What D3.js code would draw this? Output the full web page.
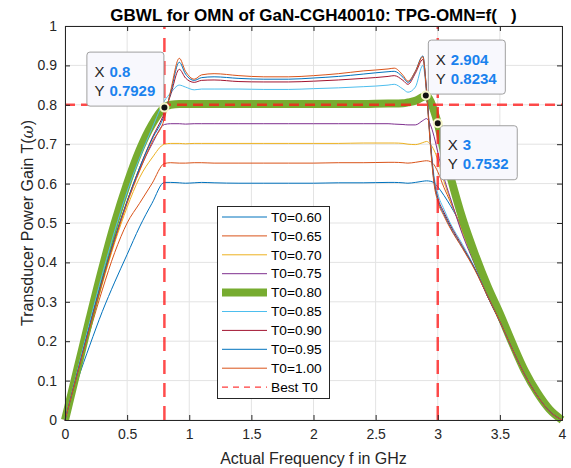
<!DOCTYPE html>
<html><head><meta charset="utf-8">
<script src="https://cdn.jsdelivr.net/npm/d3@7"></script>
<style>
html,body{margin:0;padding:0;background:#fff;}
svg{display:block;font-family:"Liberation Sans",Arial,Helvetica,sans-serif;}
</style></head>
<body>
<svg id="chart" width="571" height="468"></svg>
<script>
// ---------- data ----------
const freq = [0,0.1,0.2,0.3,0.4,0.5,0.6,0.7,0.8,0.85,0.92,0.97,1.04,1.1,1.2,1.4,1.6,1.8,2.0,2.2,2.4,2.6,2.65,2.72,2.76,2.82,2.88,2.91,2.94,2.97,3.0,3.05,3.1,3.2,3.3,3.4,3.5,3.6,3.7,3.8,3.9,4.0];
const t060 = [0,0.10,0.19,0.275,0.35,0.42,0.49,0.55,0.603,0.603,0.602,0.601,0.602,0.603,0.602,0.601,0.601,0.601,0.601,0.602,0.602,0.603,0.603,0.602,0.601,0.603,0.606,0.607,0.606,0.602,0.592,0.57,0.545,0.485,0.40,0.315,0.25,0.18,0.115,0.062,0.022,0];
const t065 = [0,0.115,0.225,0.33,0.425,0.50,0.55,0.60,0.651,0.653,0.652,0.652,0.653,0.653,0.652,0.652,0.652,0.652,0.652,0.653,0.653,0.654,0.654,0.653,0.652,0.654,0.657,0.658,0.656,0.648,0.63,0.59,0.555,0.48,0.398,0.315,0.25,0.18,0.115,0.062,0.022,0];
const t070 = [0,0.117,0.233,0.345,0.45,0.54,0.615,0.665,0.70,0.702,0.702,0.701,0.702,0.702,0.702,0.702,0.702,0.702,0.702,0.702,0.703,0.703,0.703,0.702,0.700,0.699,0.704,0.707,0.70,0.685,0.66,0.605,0.56,0.475,0.395,0.315,0.25,0.18,0.115,0.062,0.022,0];
const t075 = [0,0.12,0.24,0.355,0.46,0.555,0.635,0.70,0.75,0.752,0.752,0.751,0.752,0.752,0.752,0.752,0.752,0.752,0.752,0.752,0.752,0.752,0.751,0.750,0.749,0.749,0.76,0.765,0.75,0.72,0.68,0.615,0.565,0.47,0.393,0.315,0.25,0.18,0.115,0.062,0.022,0];
const t080 = [0,0.13,0.26,0.385,0.50,0.60,0.685,0.75,0.793,0.80,0.802,0.802,0.802,0.802,0.802,0.802,0.802,0.802,0.802,0.802,0.802,0.803,0.803,0.804,0.806,0.81,0.82,0.823,0.81,0.785,0.753,0.68,0.62,0.51,0.42,0.34,0.27,0.195,0.125,0.07,0.027,0];
const t085 = [0,0.125,0.25,0.37,0.48,0.58,0.665,0.74,0.81,0.83,0.85,0.845,0.838,0.84,0.84,0.84,0.839,0.839,0.841,0.843,0.846,0.850,0.852,0.840,0.832,0.845,0.90,0.83,0.71,0.62,0.575,0.535,0.50,0.445,0.385,0.315,0.25,0.18,0.115,0.062,0.022,0];
const t090 = [0,0.12,0.24,0.355,0.46,0.555,0.64,0.715,0.78,0.825,0.89,0.868,0.857,0.862,0.863,0.859,0.858,0.858,0.86,0.863,0.867,0.872,0.874,0.862,0.852,0.88,0.915,0.84,0.71,0.61,0.565,0.527,0.495,0.44,0.383,0.315,0.25,0.18,0.115,0.062,0.022,0];
const t095 = [0,0.12,0.24,0.355,0.46,0.555,0.64,0.712,0.775,0.83,0.908,0.878,0.862,0.869,0.871,0.867,0.865,0.865,0.868,0.872,0.878,0.884,0.885,0.87,0.857,0.885,0.924,0.835,0.705,0.605,0.56,0.522,0.49,0.437,0.382,0.315,0.25,0.18,0.115,0.062,0.022,0];
const t100 = [0,0.118,0.235,0.35,0.455,0.55,0.632,0.705,0.765,0.835,0.918,0.885,0.865,0.876,0.879,0.874,0.871,0.871,0.874,0.879,0.886,0.891,0.893,0.875,0.86,0.885,0.922,0.83,0.70,0.60,0.555,0.518,0.487,0.435,0.38,0.315,0.25,0.18,0.115,0.062,0.022,0];

const seriesNames  = ["T0=0.60","T0=0.65","T0=0.70","T0=0.75","T0=0.80","T0=0.85","T0=0.90","T0=0.95","T0=1.00"];
const seriesValues = [t060,t065,t070,t075,t080,t085,t090,t095,t100];
const seriesColors = ["#0072BD","#D95319","#EDB120","#7E2F8E","#77AC30","#4DBEEE","#A2142F","#0072BD","#D95319"];
const seriesWidths = [1,1,1,1,8,1,1,1,1];

const bestT0 = 0.8;
const bandEdges = [0.8, 3.0];
const dataTips = [
  {x:"0.8",   y:"0.7929", fx:0.8,   fy:0.7929, side:"left"},
  {x:"2.904", y:"0.8234", fx:2.904, fy:0.8234, side:"upright"},
  {x:"3",     y:"0.7532", fx:3.0,   fy:0.7532, side:"downright"}
];
const xTicks = [0,0.5,1,1.5,2,2.5,3,3.5,4];
const yTicks = [0,0.1,0.2,0.3,0.4,0.5,0.6,0.7,0.8,0.9,1];

// ---------- layout ----------
const svg = d3.select("#chart");
const L=65, R=562, T=26, B=420;
const x = d3.scaleLinear().domain([0,4]).range([L,R]);
const y = d3.scaleLinear().domain([0,1]).range([B,T]);
const axisColor = "#262626";

// grid
const grid = svg.append("g");
grid.selectAll("line.vx").data(xTicks).join("line")
  .attr("x1",d=>x(d)).attr("x2",d=>x(d)).attr("y1",T).attr("y2",B)
  .attr("stroke","#e3e3e3").attr("stroke-width",1);
grid.selectAll("line.hy").data(yTicks).join("line")
  .attr("y1",d=>y(d)).attr("y2",d=>y(d)).attr("x1",L).attr("x2",R)
  .attr("stroke","#e3e3e3").attr("stroke-width",1);

// curves
const line = d3.line().x(d=>x(d[0])).y(d=>y(d[1])).curve(d3.curveMonotoneX);
const curves = svg.append("g");
seriesValues.forEach((vals,i)=>{
  curves.append("path")
    .datum(freq.map((f,k)=>[f,vals[k]]))
    .attr("d",line)
    .attr("fill","none")
    .attr("stroke",seriesColors[i])
    .attr("stroke-width",seriesWidths[i])
    .attr("stroke-linejoin","round")
    .attr("stroke-linecap", i===4 ? "butt" : "round");
});

// best T0 dashed lines
const dash = svg.append("g").attr("stroke","#ff1a1a").attr("stroke-opacity",0.78)
  .attr("stroke-width",2.5).attr("fill","none");
dash.append("line").attr("x1",x(0)).attr("x2",x(4)).attr("y1",y(bestT0)).attr("y2",y(bestT0))
  .attr("stroke-dasharray","10,6");
bandEdges.forEach(f=>{
  dash.append("line").attr("x1",x(f)).attr("x2",x(f)).attr("y1",y(0)).attr("y2",y(1))
    .attr("stroke-dasharray","14,9");
});

// axes
const fmtX = d3.format("~g");
const fmtY = d=> d===0?"0":(d===1?"1":d.toFixed(1));
const gx = svg.append("g").attr("transform",`translate(0,${B})`)
  .call(d3.axisBottom(x).tickValues(xTicks).tickFormat(fmtX).tickSizeInner(-5).tickSizeOuter(0).tickPadding(9));
const gxt = svg.append("g").attr("transform",`translate(0,${T})`)
  .call(d3.axisTop(x).tickValues(xTicks).tickFormat("").tickSizeInner(-5).tickSizeOuter(0));
const gy = svg.append("g").attr("transform",`translate(${L},0)`)
  .call(d3.axisLeft(y).tickValues(yTicks).tickFormat(fmtY).tickSizeInner(-5).tickSizeOuter(0).tickPadding(8));
const gyr = svg.append("g").attr("transform",`translate(${R},0)`)
  .call(d3.axisRight(y).tickValues(yTicks).tickFormat("").tickSizeInner(-5).tickSizeOuter(0));
[gx,gxt,gy,gyr].forEach(g=>{
  g.selectAll("path.domain").attr("stroke",axisColor).attr("stroke-width",1);
  g.selectAll(".tick line").attr("stroke",axisColor);
  g.selectAll(".tick text").attr("fill",axisColor).style("font-size","14px")
   .style("font-family",'"Liberation Sans",Arial,Helvetica,sans-serif');
});

// labels
svg.append("text").attr("x",(L+R)/2).attr("y",464).attr("text-anchor","middle")
  .attr("fill",axisColor).style("font-size","16px").text("Actual Frequency f in GHz");
const yl = svg.append("text").attr("transform",`translate(33,${(T+B)/2}) rotate(-90)`)
  .attr("text-anchor","middle").attr("fill",axisColor).style("font-size","16px");
yl.append("tspan").text("Transducer Power Gain T(");
yl.append("tspan").style("font-style","italic").style("font-family",'"DejaVu Serif",serif').text("ω");
yl.append("tspan").text(")");
svg.append("text").attr("x",(L+R)/2).attr("y",20.5).attr("text-anchor","middle")
  .attr("fill","#000").style("font-size","17px").style("font-weight","bold")
  .attr("xml:space","preserve").style("white-space","pre")
  .text("GBWL for OMN of GaN-CGH40010: TPG-OMN=f(   )");

// legend
const lg = svg.append("g");
const lgX=217, lgY=206, lgW=112, lgH=192, rowH=18.9;
lg.append("rect").attr("x",lgX+0.5).attr("y",lgY+0.5).attr("width",lgW).attr("height",lgH)
  .attr("fill","#fff").attr("stroke",axisColor).attr("stroke-width",1);
const legItems = seriesNames.map((n,i)=>({name:n,color:seriesColors[i],w:seriesWidths[i],dash:null}))
  .concat([{name:"Best T0",color:"#ff1a1a",w:1.2,dash:"6,5"}]);
legItems.forEach((it,i)=>{
  const cy = lgY + 11 + i*rowH;
  lg.append("line").attr("x1",lgX+5).attr("x2",lgX+50).attr("y1",cy).attr("y2",cy)
    .attr("stroke",it.color).attr("stroke-width",it.w)
    .attr("stroke-dasharray",it.dash).attr("stroke-opacity",it.dash?0.85:1);
  lg.append("text").attr("x",lgX+54).attr("y",cy).attr("dy","0.35em")
    .attr("fill","#000").style("font-size","13.7px").text(it.name);
});

// data tips
const tipW=77, tipH=54;
const tips = svg.append("g");
dataTips.forEach(t=>{
  const px=x(t.fx), py=y(t.fy);
  let bx, by;
  if(t.side==="left"){ bx=px-78; by=py-56; }
  else if(t.side==="upright"){ bx=px+2; by=py-56; }
  else { bx=px+2; by=py+2; }
  tips.append("rect").attr("x",bx+0.5).attr("y",by+0.5).attr("width",tipW).attr("height",tipH)
    .attr("rx",3).attr("fill","#f8f8fd").attr("stroke","#a0a0a0").attr("stroke-width",1);
  [["X",t.x],["Y",t.y]].forEach((r,j)=>{
    const ty = by + 20 + j*19;
    const tx = tips.append("text").attr("x",bx+8).attr("y",ty).attr("dy","0.35em").style("font-size","15px");
    tx.append("tspan").attr("fill","#262626").text(r[0]+" ");
    tx.append("tspan").attr("x",bx+23).attr("fill","#1a82ee").style("font-weight","bold").text(r[1]);
  });
  tips.append("circle").attr("cx",px).attr("cy",py).attr("r",4)
    .attr("fill","#111").attr("stroke","#f5f5c8").attr("stroke-width",2);
});
</script>
</body></html>
